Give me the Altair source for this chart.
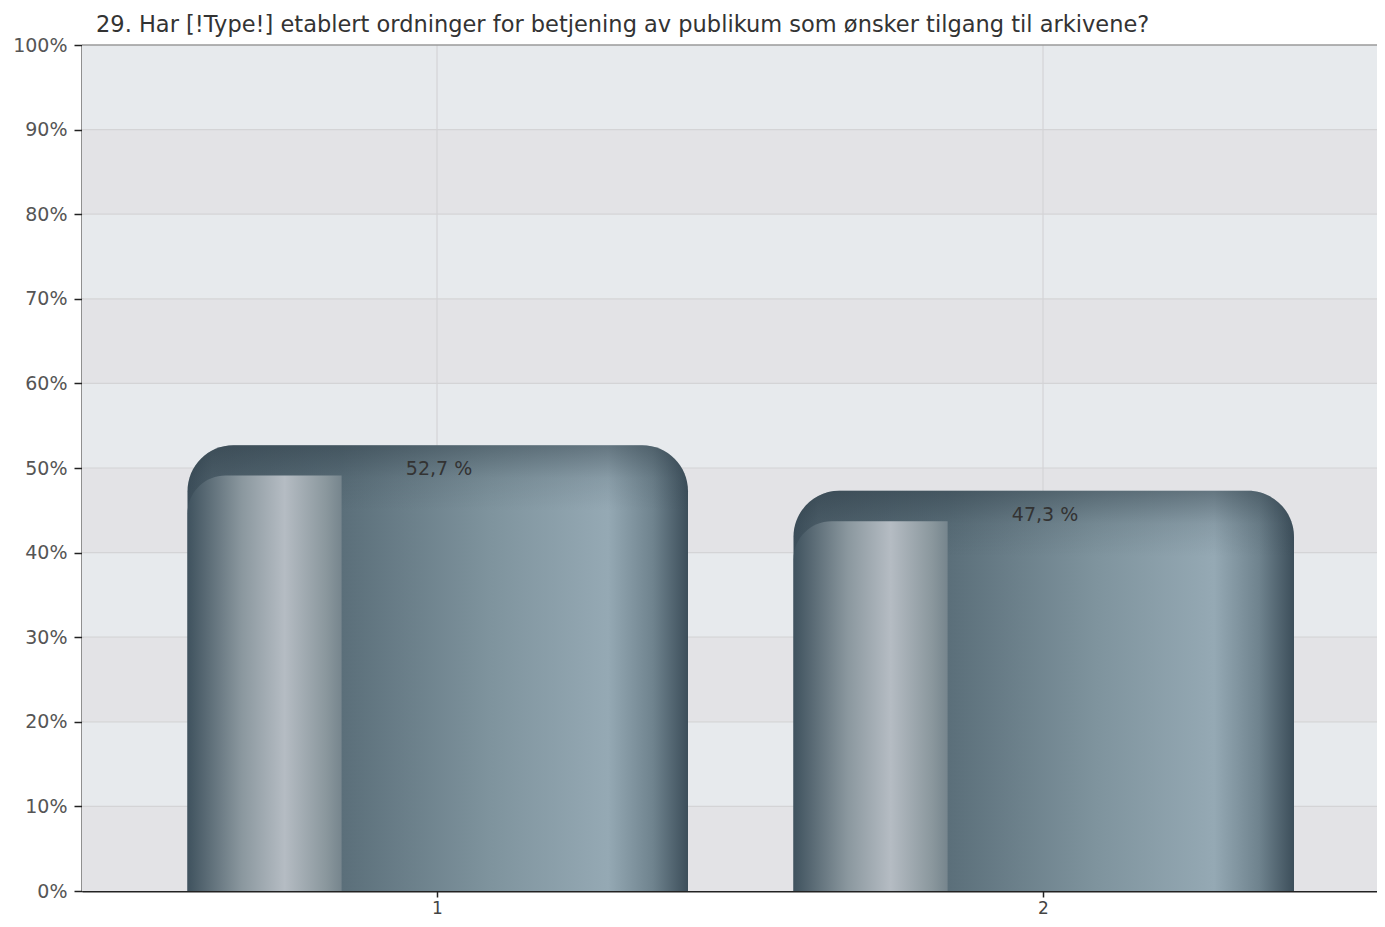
import altair as alt
import pandas as pd

# ---- data ----
categories = [1, 2]
values = [52.7, 47.3]
y_ticks = [0, 10, 20, 30, 40, 50, 60, 70, 80, 90, 100]
title_text = "29. Har [!Type!] etablert ordninger for betjening av publikum som ønsker tilgang til arkivene?"

labels = [f"{v:.1f}".replace(".", ",") + " %" for v in values]
df = pd.DataFrame({"cat": categories, "val": values, "label": labels})
bands = pd.DataFrame({"lo": y_ticks[:-1], "hi": y_ticks[1:]})
bands["shade"] = ["dark" if (i % 2 == 0) else "light" for i in range(len(bands))]
hgrid = pd.DataFrame({"v": y_ticks[1:-1]})
vgrid = pd.DataFrame({"c": categories})

FONT = "DejaVu Sans"
W, H = 1295, 846
XDOM = [0.4142, 0.4142 + W / 606.0]
HALF = 0.4142

xs = alt.Scale(domain=XDOM, nice=False, zero=False, padding=0)
ys = alt.Scale(domain=[0, 100], nice=False, padding=0)

xaxis = alt.Axis(values=[1, 2], format="d", title=None, grid=False,
                 domainColor="#222", domainWidth=2, tickColor="#222", tickSize=6, tickWidth=1.5,
                 labelFontSize=17, labelColor="#444", labelPadding=3, labelFont=FONT)
yaxis = alt.Axis(values=y_ticks, labelExpr="datum.value + '%'", title=None, grid=False,
                 domainColor="#222", domainWidth=2, tickColor="#222", tickSize=8, tickWidth=1.5,
                 labelFontSize=19, labelColor="#555", labelPadding=7, labelFont=FONT)

band_layer = alt.Chart(bands).mark_rect().encode(
    x=alt.value(0), x2=alt.value(W),
    y=alt.Y("lo:Q", scale=ys, axis=yaxis), y2="hi:Q",
    color=alt.Color("shade:N", scale=alt.Scale(domain=["dark", "light"], range=["#e3e3e6", "#e7eaed"]), legend=None),
)

hgrid_layer = alt.Chart(hgrid).mark_rule(color="#d4d4d6", strokeWidth=1.2).encode(
    y=alt.Y("v:Q", scale=ys, axis=yaxis), x=alt.value(0), x2=alt.value(W)
)
vgrid_layer = alt.Chart(vgrid).mark_rule(color="#d4d4d6", strokeWidth=1.2).encode(
    x=alt.X("c:Q", scale=xs, axis=xaxis), y=alt.value(0), y2=alt.value(H)
)

top_rule = alt.Chart(pd.DataFrame({"v": [100]})).mark_rule(color="#9a9a9a", strokeWidth=1.5).encode(
    y=alt.Y("v:Q", scale=ys, axis=yaxis), x=alt.value(0), x2=alt.value(W)
)

base = alt.Chart(df).transform_calculate(
    x0=f"datum.cat - {HALF}",
    x1=f"datum.cat + {HALF}",
    xi=f"datum.cat - {HALF} + {0.31 * 2 * HALF}",
    vi="datum.val - 3.6",
    vt="datum.val - 13",
)

outer_grad = alt.Gradient(
    gradient="linear", x1=0, x2=1, y1=0, y2=0,
    stops=[
        alt.GradientStop(offset=0, color="#3c4e5a"),
        alt.GradientStop(offset=0.05, color="#4d5f6a"),
        alt.GradientStop(offset=0.31, color="#5b6f7a"),
        alt.GradientStop(offset=0.6, color="#7e939d"),
        alt.GradientStop(offset=0.84, color="#95a9b4"),
        alt.GradientStop(offset=0.93, color="#6f838e"),
        alt.GradientStop(offset=1, color="#3c4e5a"),
    ],
)
outer = base.mark_bar(color=outer_grad, cornerRadiusTopLeft=46, cornerRadiusTopRight=46, xOffset=1.5).encode(
    x=alt.X("x0:Q", scale=xs, axis=xaxis), x2="x1:Q",
    y=alt.Y("val:Q", scale=ys, axis=yaxis), y2=alt.datum(0),
)

top_shade = base.mark_bar(
    cornerRadiusTopLeft=46, cornerRadiusTopRight=46, xOffset=1.5,
    color=alt.Gradient(gradient="linear", x1=0, x2=0, y1=0, y2=1, stops=[
        alt.GradientStop(offset=0, color="rgba(40,55,65,0.45)"),
        alt.GradientStop(offset=0.3, color="rgba(40,55,65,0.12)"),
        alt.GradientStop(offset=0.6, color="rgba(40,55,65,0)"),
        alt.GradientStop(offset=1, color="rgba(40,55,65,0)"),
    ]),
).encode(x=alt.X("x0:Q", scale=xs, axis=xaxis), x2="x1:Q",
         y=alt.Y("val:Q", scale=ys, axis=yaxis), y2="vt:Q")

inner_grad = alt.Gradient(
    gradient="linear", x1=0, x2=1, y1=0, y2=0,
    stops=[
        alt.GradientStop(offset=0, color="#3f525e"),
        alt.GradientStop(offset=0.35, color="#8a979e"),
        alt.GradientStop(offset=0.63, color="#b5bcc3"),
        alt.GradientStop(offset=0.9, color="#8a979d"),
        alt.GradientStop(offset=1, color="#76858d"),
    ],
)
inner = base.mark_bar(color=inner_grad, cornerRadiusTopLeft=38, xOffset=1.5).encode(
    x=alt.X("x0:Q", scale=xs, axis=xaxis), x2="xi:Q",
    y=alt.Y("vi:Q", scale=ys, axis=yaxis), y2=alt.datum(0)
)

text = base.mark_text(baseline="middle", dy=24, dx=2, fontSize=19, color="#333", font=FONT).encode(
    x=alt.X("cat:Q", scale=xs, axis=xaxis), y=alt.Y("val:Q", scale=ys, axis=yaxis), text="label:N"
)

chart = alt.layer(band_layer, hgrid_layer, vgrid_layer, top_rule, outer, top_shade, inner, text).properties(
    width=W, height=H,
    title=alt.TitleParams(title_text, anchor="start", frame="group", dx=14, offset=0, fontSize=22.5,
                          fontWeight="normal", color="#333", font=FONT),
    padding={"left": 74, "top": 37, "right": 0, "bottom": 28},
    autosize=alt.AutoSizeParams(type="none"),
).configure_view(stroke=None).configure(background="white")

chart.save("out.html", embed_options={"renderer": "svg", "actions": False})
